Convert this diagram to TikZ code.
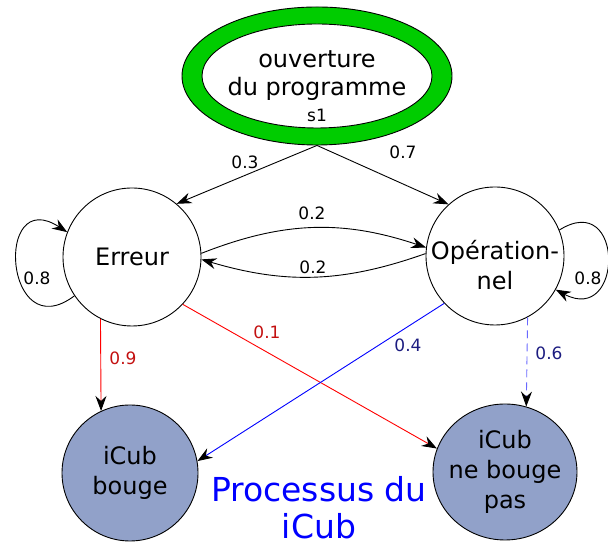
\documentclass[tikz,border=0pt]{standalone}
\usepackage{fontspec}
\setmainfont{DejaVu Sans}
\usetikzlibrary{shapes.geometric, arrows.meta}
\definecolor{ringgreen}{RGB}{0,204,0}
\definecolor{icubfill}{RGB}{145,161,201}
\definecolor{probred}{RGB}{195,16,16}
\definecolor{probblue}{RGB}{28,28,128}
\definecolor{dashblue}{RGB}{105,105,255}
\tikzstyle{line} = [draw, line width=0.9pt, -{Stealth[length=15pt, width=11pt, inset=5pt, color=black]}]
\tikzstyle{bigtext} = [align=center, font=\fontsize{24}{30}\selectfont]
\tikzstyle{state} = [draw, circle, fill=white, line width=0.9pt, minimum size=138pt, inner sep=0pt, bigtext]
\tikzstyle{icub} = [state, fill=icubfill, minimum size=136pt]
\tikzstyle{prob} = [font=\fontsize{17}{20}\selectfont, inner sep=0pt]

\begin{document}
\begin{tikzpicture}[x=1pt, y=1pt]
	\useasboundingbox (0,0) rectangle (608,548);
	
	\node [draw, ellipse, fill=ringgreen, line width=0.9pt, minimum width=270pt, minimum height=138pt] (ring) at (317,472) {};
	\node [draw, ellipse, fill=white, line width=0.9pt, minimum width=230pt, minimum height=104pt, inner sep=0pt, label={[name=starttext, bigtext, font=\fontsize{24}{28}\selectfont]center:ouverture\\du programme}] (start) at (317,472) {};
	\node [prob] (s1) at (317,433) {s1};
	
	\node [state] (err) at (132,291) {Erreur};
	\node [state, label={[name=optext, bigtext, yshift=-9pt]center:Opération-\\nel}] (op) at (495,292) {};
	\node [icub] (bouge) at (130,75) {iCub\\bouge};
	\node [icub, ellipse, minimum width=144pt, minimum height=136pt, label={[name=nobougetext, bigtext]center:iCub\\ne bouge\\pas}] (nobouge) at (505,76) {};
	\node [font=\fontsize{33}{37}\selectfont, text=blue, align=center] (title) at (319,40) {Processus du\\iCub};
	
	\path [line] (ring.south) -- (err.50);
	\path [line] (ring.south) -- (op.132);
	\path [line] (err.3) to[bend left=20] (op.173);
	\path [line] (op.178) to[bend left=18] (err.358);
	\path [line] (err.214) to[out=217, in=147, looseness=3.5] (err.159);
	\path [line] (op.22) to[out=32, in=-28, looseness=3.3] (op.-29);
	
	\path [line, draw=red] (err.243) -- (bouge.115);
	\path [line, draw=red] (err.317) -- (nobouge.161);
	\path [line, draw=blue] (op.223) -- (bouge.10);
	\path [line, draw=dashblue, dash pattern=on 8pt off 5pt] (op.298) -- (nobouge.72);
	
	\node [prob] (p03) at (245,386) {0.3};
	\node [prob] (p07) at (403,396) {0.7};
	\node [prob] (p02a) at (312,335) {0.2};
	\node [prob] (p02b) at (313,281) {0.2};
	\node [prob] (p08a) at (37,270) {0.8};
	\node [prob] (p08b) at (588,270) {0.8};
	\node [prob, text=probred] (p01) at (267,216) {0.1};
	\node [prob, text=probred] (p09) at (123,190) {0.9};
	\node [prob, text=probblue] (p04) at (408,203) {0.4};
	\node [prob, text=probblue] (p06) at (549,195) {0.6};
\end{tikzpicture}
\end{document}
